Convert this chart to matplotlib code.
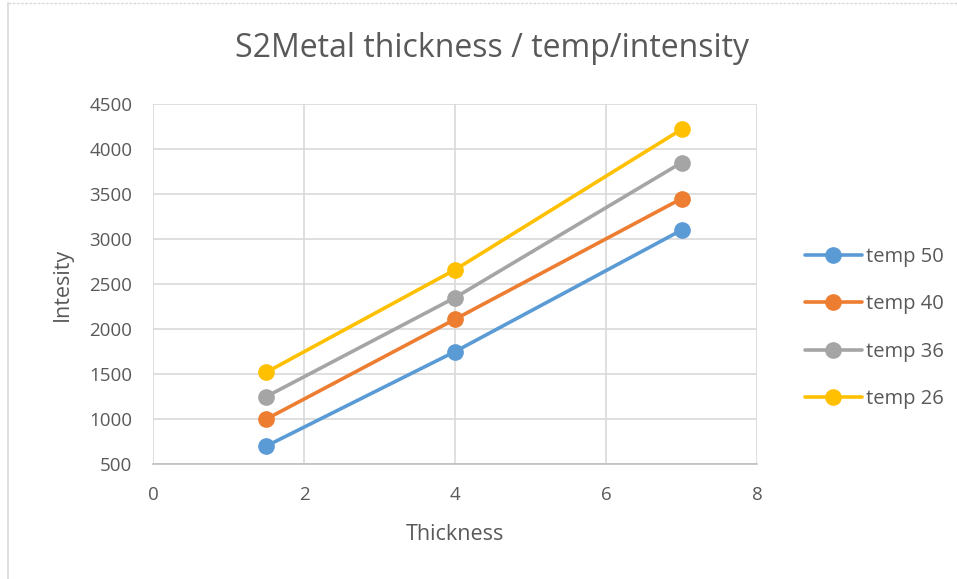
import matplotlib.pyplot as plt
from matplotlib.lines import Line2D

plt.rcParams['font.family'] = ['Open Sans', 'DejaVu Sans']

thickness = [1.5, 4, 7]
temp_50 = [700, 1750, 3100]
temp_40 = [1000, 2110, 3450]
temp_36 = [1250, 2350, 3850]
temp_26 = [1520, 2660, 4220]

series = [
    ("temp 50", temp_50, "#5B9BD5"),
    ("temp 40", temp_40, "#ED7D31"),
    ("temp 36", temp_36, "#A5A5A5"),
    ("temp 26", temp_26, "#FFC000"),
]

txt = "#595959"
fig = plt.figure(figsize=(9.57, 5.79), dpi=100)
ax = fig.add_axes([0.160, 0.1986, 0.631, 0.6214])

for name, vals, col in series:
    ax.plot(thickness, vals, color=col, lw=2.6, marker="o", ms=11, label=name,
            solid_capstyle="round", zorder=3)

ax.set_xlim(0, 8)
ax.set_ylim(500, 4500)
ax.set_xticks(range(0, 9, 2))
ax.set_yticks(range(500, 4501, 500))
ax.grid(color="#D9D9D9", lw=1.2)
ax.set_axisbelow(True)
for s in ["top", "right", "left"]:
    ax.spines[s].set_visible(False)
ax.spines["bottom"].set_color("#BFBFBF")
ax.spines["bottom"].set_linewidth(1.2)
ax.tick_params(length=0, labelsize=13.5, colors=txt)
ax.tick_params(axis="x", pad=16)
ax.tick_params(axis="y", pad=15)

ax.set_xlabel("Thickness", fontsize=15.5, color=txt, labelpad=14)
ax.set_ylabel("Intesity", fontsize=15.5, color=txt, labelpad=12)
fig.text(0.514, 0.917, "S2Metal thickness / temp/intensity", fontsize=23,
         color=txt, ha="center", va="center")

ax.legend(loc="center left", bbox_to_anchor=(1.05, 0.378), frameon=False,
          fontsize=14.5, labelcolor=txt, handlelength=2.8, labelspacing=1.35,
          handletextpad=0.2)

# chart area frame
fig.add_artist(Line2D([0.008, 0.008], [0.0, 0.995], color="#D9D9D9", lw=1.2,
                      transform=fig.transFigure))
fig.add_artist(Line2D([0.008, 1.0], [0.995, 0.995], color="#D9D9D9", lw=1.0,
                      ls=(0, (2, 1)), transform=fig.transFigure))

fig.savefig("out.png", dpi=100)
